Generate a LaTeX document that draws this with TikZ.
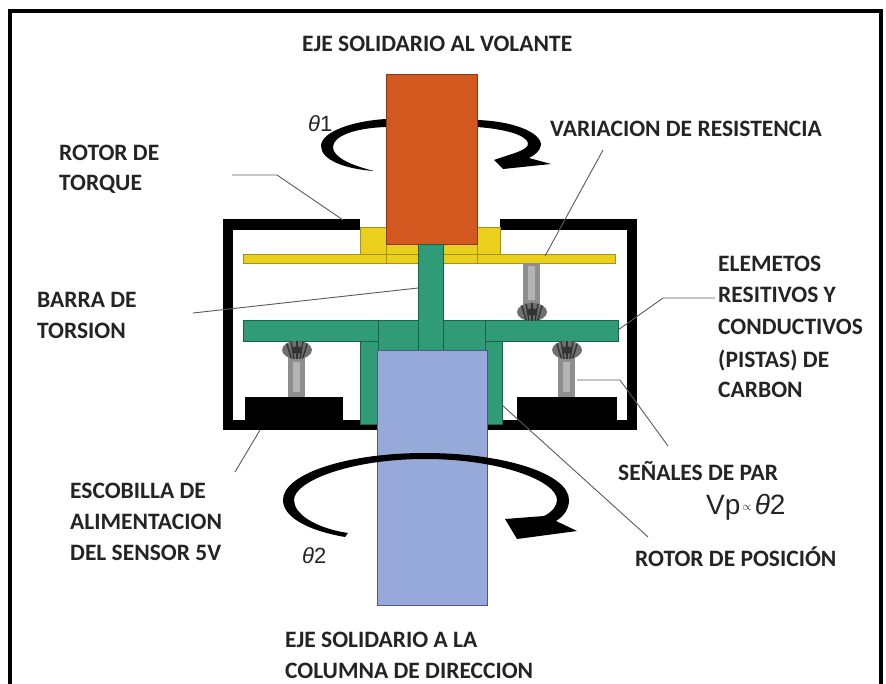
\documentclass[tikz,border=0pt]{standalone}
\usepackage{fontspec}
\setmainfont{Carlito}
\newfontfamily\arialf{Liberation Sans}
\definecolor{shaftorange}{HTML}{D2581F}
\definecolor{orangeedge}{HTML}{8A3612}
\definecolor{hubyellow}{HTML}{EACF1C}
\definecolor{yellowedge}{HTML}{A89212}
\definecolor{rotorgreen}{HTML}{2F9C77}
\definecolor{greenedge}{HTML}{1C624B}
\definecolor{shaftblue}{HTML}{97A9D8}
\definecolor{blueedge}{HTML}{4C5A7E}
\definecolor{postgray}{HTML}{8E8E8E}
\definecolor{postlight}{HTML}{B4B4B4}
\definecolor{bulbgray}{HTML}{6F6F6F}
\definecolor{bulbdark}{HTML}{333333}
\definecolor{labelgray}{HTML}{242424}
\definecolor{leadgray}{HTML}{5A5A5A}
\begin{document}
\begin{tikzpicture}[x=1pt,y=-1pt,
  lbl/.style={font=\fontsize{23.5}{28}\selectfont\bfseries, text=labelgray, inner sep=0pt, anchor=base west},
  sym/.style={font=\fontsize{22}{26}\selectfont\arialf, text=labelgray, inner sep=0pt, anchor=base west},
  leader/.style={draw=leadgray, line width=0.9pt},
  yellowpart/.style={fill=hubyellow, draw=yellowedge, line width=0.7pt},
  greenpart/.style={fill=rotorgreen, draw=greenedge, line width=0.8pt},
  bristle/.pic={
    \fill[bulbgray] (0,0) ellipse [x radius=15, y radius=9];
    \begin{scope}
      \clip (0,0) ellipse [x radius=15, y radius=9];
      \foreach \dx in {-11,-6,0,6,11}
        \draw[bulbdark, line width=1.4pt] (\dx,-9) -- ({0.5*\dx},9);
      \fill[bulbdark] (0,0) ellipse [x radius=5, y radius=4];
    \end{scope}
  }]
\useasboundingbox (0,0) rectangle (886,684);

% outer frame (open at the bottom)
\draw[line width=4pt] (9.5,684) -- (9.5,11.5) -- (880.5,11.5) -- (880.5,684);

% ---------- labels ----------
\node[lbl] (title) at (302,52) {EJE SOLIDARIO AL VOLANTE};
\node[lbl] (torque1) at (59,161) {ROTOR DE};
\node[lbl] (torque2) at (59,191) {TORQUE};
\node[lbl] (bar1) at (37,308) {BARRA DE};
\node[lbl] (bar2) at (37,339) {TORSION};
\node[lbl] (var) at (550,137) {VARIACION DE RESISTENCIA};
\node[lbl] (el1) at (718,272) {ELEMETOS};
\node[lbl] (el2) at (718,303) {RESITIVOS Y};
\node[lbl] (el3) at (718,335) {CONDUCTIVOS};
\node[lbl] (el4) at (718,367) {(PISTAS) DE};
\node[lbl] (el5) at (718,398) {CARBON};
\node[lbl] (sig) at (618,480) {SEÑALES DE PAR};
\node[lbl] (pos) at (635,566) {ROTOR DE POSICIÓN};
\node[lbl] (esc1) at (70,498) {ESCOBILLA DE};
\node[lbl] (esc2) at (70,529) {ALIMENTACION};
\node[lbl] (esc3) at (70,560) {DEL SENSOR 5V};
\node[lbl] (col1) at (285,647) {EJE SOLIDARIO A LA};
\node[lbl] (col2) at (285,678) {COLUMNA DE DIRECCION};
\node[sym] (th1) at (308,132) {{\itshape θ}1};
\node[sym] (th2) at (302,563) {{\itshape θ}2};
\node[sym, font=\fontsize{28}{32}\selectfont\arialf] (vp) at (706,514)
  {Vp\kern2pt{\fontsize{13}{14}\selectfont\raisebox{4pt}{$\propto$}}\kern3pt{\itshape θ}2};

% ---------- rotation arrow of the upper shaft ----------
\fill[black] (386,119) .. controls (352,121) and (321,132) .. (321,146)
  .. controls (321,160) and (345,169) .. (374,171)
  .. controls (350,165) and (333,157) .. (333,147)
  .. controls (333,136) and (355,128) .. (386,127) -- cycle;
\fill[black] (477,120) .. controls (512,121) and (541,132) .. (541,145)
  .. controls (540,151) and (535,155) .. (529,158)
  -- (551,164) -- (503,169) -- (494,160) -- (515,153)
  .. controls (523,150) and (529,147) .. (528,143)
  .. controls (526,135) and (505,129) .. (477,127) -- cycle;

% ---------- housing ----------
\fill[black] (223,219) rectangle (360,230);
\fill[black] (500,219) rectangle (637,230);
\fill[black] (223,219) rectangle (233,430);
\fill[black] (627,219) rectangle (637,430);
\fill[black] (223,420) rectangle (377,430);
\fill[black] (487,420) rectangle (637,430);

% ---------- torque rotor (yellow) ----------
\path[yellowpart] (243,254) rectangle (615,263);
\path[yellowpart] (360,227) rectangle (500,254);
\draw[yellowedge, line width=0.7pt] (386,244) -- (386,263) (477,244) -- (477,263);

% upper shaft
\path[fill=shaftorange, draw=orangeedge, line width=0.8pt] (386,74) rectangle (477,244);

% ---------- position rotor and torsion bar (green) ----------
\path[greenpart] (243,320) rectangle (618,341);
\path[greenpart] (360,341) rectangle (378,424);
\path[greenpart] (485,341) rectangle (502,424);
\path[greenpart] (378,320) rectangle (485,350);
\path[greenpart] (418,244) rectangle (443,350);

% ---------- brushes ----------
\fill[postgray] (523,263) rectangle (540,309);
\fill[postlight] (528,266) rectangle (535,300);
\pic at (532,312) {bristle};
\fill[postgray] (288,355) rectangle (305,398);
\fill[postlight] (293,362) rectangle (300,392);
\pic at (297,350) {bristle};
\fill[postgray] (558,355) rectangle (575,398);
\fill[postlight] (563,362) rectangle (570,392);
\pic at (567,350) {bristle};
\fill[black] (245,397) rectangle (343,421);
\fill[black] (517,397) rectangle (617,421);

% lower shaft
\path[fill=shaftblue, draw=blueedge, line width=0.8pt] (377,350) rectangle (487,605);

% ---------- rotation arrow of the lower shaft ----------
\fill[black] (345,537) .. controls (305,530) and (283,516) .. (283,500)
  .. controls (283,474) and (346,453) .. (425,453)
  .. controls (505,453) and (569,474) .. (569,500)
  .. controls (569,509) and (564,516) .. (556,521)
  -- (577,531) -- (517,539) -- (505,519) -- (544,516)
  .. controls (552,512) and (557,506) .. (557,500)
  .. controls (557,481) and (500,459) .. (425,459)
  .. controls (351,459) and (294,481) .. (294,500)
  .. controls (294,514) and (315,528) .. (348,533) -- cycle;

% ---------- leader lines ----------
\coordinate (torqueEnd) at (343,220);
\coordinate (torqueStart) at (232,175);
\draw[leader] (torqueStart) -- (277,175) -- (torqueEnd);
\coordinate (barStart) at (193,313);
\coordinate (barEnd) at (418,288);
\draw[leader] (barStart) -- (barEnd);
\coordinate (varStart) at (603,150);
\coordinate (varEnd) at (545,256);
\draw[leader] (varStart) -- (varEnd);
\coordinate (elStart) at (715,298);
\coordinate (elEnd) at (618,330);
\draw[leader] (elStart) -- (663,298) -- (elEnd);
\coordinate (sigStart) at (577,380);
\coordinate (sigEnd) at (668,446);
\draw[leader] (sigStart) -- (620,380) -- (sigEnd);
\coordinate (posStart) at (502,405);
\coordinate (posEnd) at (648,537);
\draw[leader] (posStart) -- (posEnd);
\coordinate (escStart) at (260,430);
\coordinate (escEnd) at (235,472);
\draw[leader] (escStart) -- (escEnd);
\end{tikzpicture}
\end{document}
